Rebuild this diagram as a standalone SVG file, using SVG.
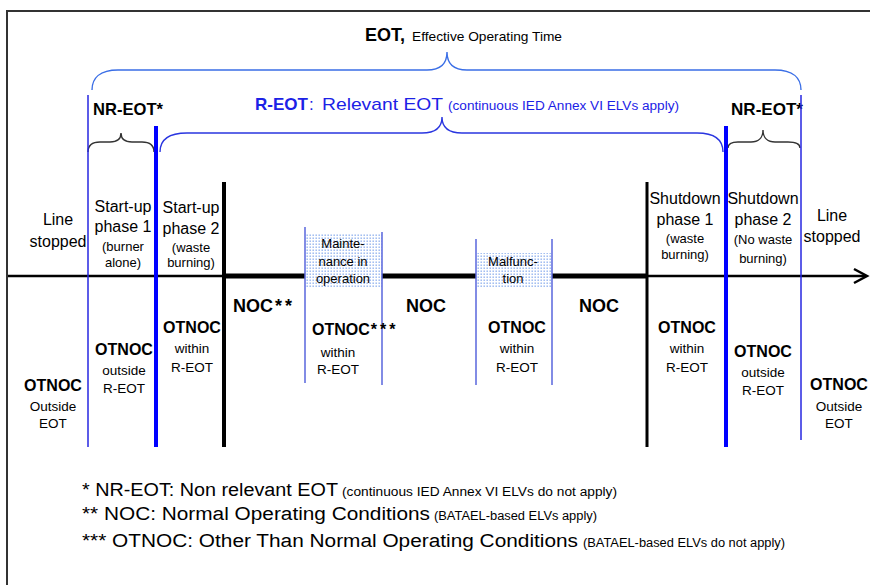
<svg xmlns="http://www.w3.org/2000/svg" width="870" height="585" viewBox="0 0 870 585">
<style>
text{font-family:"Liberation Sans",Arial,sans-serif;fill:#000}
.c{text-anchor:middle}
.t16{font-size:16px}
.s13{font-size:13px}
.b{font-weight:bold}
.ot{font-size:16px;font-weight:bold;text-anchor:middle}
.sub{font-size:13.5px;text-anchor:middle}
.noc{font-size:18px;font-weight:bold}
.blue{fill:#1c22e6}
.thinb{stroke:#2626e0;stroke-width:1.5;fill:none}
.thickb{stroke:#0000ff;stroke-width:4;fill:none}
.boxl{stroke:#5866dc;stroke-width:1.5;fill:none}
.brace{fill:none;stroke-width:1.4}
</style>
<defs>
<pattern id="dots" width="3" height="3" patternUnits="userSpaceOnUse">
<rect width="3" height="3" fill="#ffffff"/>
<rect x="0.5" y="0.5" width="1.4" height="1.4" fill="#8eb0ee"/>
</pattern>
</defs>
<rect width="870" height="585" fill="#ffffff"/>
<rect x="7" y="11" width="900" height="620" fill="none" stroke="#333333" stroke-width="2"/>

<g id="titles">
<text x="365" y="41" class="b" font-size="18">EOT,</text>
<text x="412" y="41" font-size="13" textLength="150" lengthAdjust="spacingAndGlyphs">Effective Operating Time</text>
<text x="93" y="115" class="b" font-size="16.5" textLength="70" lengthAdjust="spacingAndGlyphs">NR-EOT*</text>
<text x="731" y="115" class="b" font-size="16.5" textLength="72" lengthAdjust="spacingAndGlyphs">NR-EOT*</text>
<text x="255" y="110" class="b blue" font-size="17">R-EOT</text>
<text x="309" y="110" class="blue" font-size="17">:</text>
<text x="322" y="110" class="blue" font-size="17" textLength="121" lengthAdjust="spacingAndGlyphs">Relevant EOT</text>
<text x="448" y="110" class="blue" font-size="12" textLength="231" lengthAdjust="spacingAndGlyphs">(continuous IED Annex VI ELVs apply)</text>
</g>

<g id="connectors">
<path class="brace" stroke="#3a6ee6" d="M92,90 C92,78 100,70 118,70 L427,70 C441,70 447,63 447,52 C447,63 453,70 467,70 L775,70 C793,70 801,78 801,90"/>
<path class="brace" stroke="#2a36e0" d="M160,152 C160,140 168,133 187,133 L422,133 C436,133 442,127 442,117 C442,127 448,133 462,133 L697,133 C716,133 723,140 723,152"/>
<path class="brace" stroke="#333333" stroke-width="1.2" d="M88,152 C88,146 92,142 100,142 L110,142 C117,142 121,139 121,133 C121,139 125,142 132,142 L142,142 C150,142 154,146 154,152"/>
<path class="brace" stroke="#333333" stroke-width="1.2" d="M728,148 C728,144 731,142 738,142 L751,142 C758,142 763,138 763,130 C763,138 768,142 775,142 L788,142 C796,142 800,144 800,148"/>
<line x1="8" y1="276" x2="225" y2="276" stroke="#000" stroke-width="2.5"/>
<line x1="225" y1="276" x2="647" y2="276" stroke="#000" stroke-width="5"/>
<line x1="647" y1="276" x2="866" y2="276" stroke="#000" stroke-width="2.5"/>
<polyline points="854,269 867,276 854,283" fill="none" stroke="#000" stroke-width="2.5"/>
<line class="thinb" x1="88" y1="95" x2="88" y2="447"/>
<line class="thickb" x1="156" y1="126" x2="156" y2="447"/>
<line x1="224" y1="182" x2="224" y2="447" stroke="#000" stroke-width="4"/>
<line x1="647" y1="182" x2="647" y2="447" stroke="#000" stroke-width="3"/>
<line class="thickb" x1="726" y1="126" x2="726" y2="447"/>
<line class="thinb" x1="801" y1="95" x2="801" y2="440"/>
</g>

<g id="maintenance">
<rect x="305" y="233" width="77" height="55" fill="url(#dots)"/>
<line class="boxl" x1="305" y1="227" x2="305" y2="383"/>
<line class="boxl" x1="382" y1="232" x2="382" y2="385"/>
<text x="343" y="248" class="c s13">Mainte-</text>
<text x="343" y="266" class="c s13">nance in</text>
<text x="343" y="283" class="c s13">operation</text>
</g>

<g id="malfunction">
<rect x="476" y="253" width="76" height="35" fill="url(#dots)"/>
<line class="boxl" x1="476" y1="239" x2="476" y2="385"/>
<line class="boxl" x1="552" y1="239" x2="552" y2="385"/>
<text x="513" y="266" class="c s13">Malfunc-</text>
<text x="513" y="283" class="c s13">tion</text>
</g>

<g id="line-stopped-left">
<text x="58" y="225" class="c t16">Line</text>
<text x="58" y="247" class="c t16">stopped</text>
<text x="53" y="391" class="ot">OTNOC</text>
<text x="53" y="411" class="sub">Outside</text>
<text x="53" y="428" class="sub">EOT</text>
</g>

<g id="startup-1">
<text x="123" y="212" class="c t16">Start-up</text>
<text x="123" y="232" class="c t16">phase 1</text>
<text x="123" y="251" class="c s13">(burner</text>
<text x="123" y="267" class="c s13">alone)</text>
<text x="124" y="355" class="ot">OTNOC</text>
<text x="124" y="375" class="sub">outside</text>
<text x="124" y="393" class="sub">R-EOT</text>
</g>

<g id="startup-2">
<text x="191" y="213" class="c t16">Start-up</text>
<text x="191" y="234" class="c t16">phase 2</text>
<text x="191" y="252" class="c s13">(waste</text>
<text x="191" y="267" class="c s13">burning)</text>
<text x="192" y="333" class="ot">OTNOC</text>
<text x="192" y="353" class="sub">within</text>
<text x="192" y="372" class="sub">R-EOT</text>
</g>

<g id="noc-1">
<text x="233" y="312" class="noc">NOC<tspan dx="2" letter-spacing="3">**</tspan></text>
</g>

<g id="otnoc-maintenance">
<text x="312" y="335" class="b" font-size="16">OTNOC<tspan dx="1" letter-spacing="3">***</tspan></text>
<text x="338" y="357" class="sub">within</text>
<text x="338" y="374" class="sub">R-EOT</text>
</g>

<g id="noc-2">
<text x="426" y="312" class="noc c">NOC</text>
</g>

<g id="otnoc-malfunction">
<text x="517" y="333" class="ot">OTNOC</text>
<text x="517" y="353" class="sub">within</text>
<text x="517" y="372" class="sub">R-EOT</text>
</g>

<g id="noc-3">
<text x="599" y="312" class="noc c">NOC</text>
</g>

<g id="shutdown-1">
<text x="685" y="204" class="c t16">Shutdown</text>
<text x="685" y="225" class="c t16">phase 1</text>
<text x="685" y="243" class="c s13">(waste</text>
<text x="685" y="259" class="c s13">burning)</text>
<text x="687" y="333" class="ot">OTNOC</text>
<text x="687" y="353" class="sub">within</text>
<text x="687" y="372" class="sub">R-EOT</text>
</g>

<g id="shutdown-2">
<text x="763" y="204" class="c t16">Shutdown</text>
<text x="763" y="225" class="c t16">phase 2</text>
<text x="763" y="244" class="c s13">(No waste</text>
<text x="763" y="263" class="c s13">burning)</text>
<text x="763" y="357" class="ot">OTNOC</text>
<text x="763" y="377" class="sub">outside</text>
<text x="763" y="395" class="sub">R-EOT</text>
</g>

<g id="line-stopped-right">
<text x="832" y="221" class="c t16">Line</text>
<text x="832" y="242" class="c t16">stopped</text>
<text x="839" y="390" class="ot">OTNOC</text>
<text x="839" y="411" class="sub">Outside</text>
<text x="839" y="428" class="sub">EOT</text>
</g>

<g id="legend">
<text x="82" y="496" font-size="18" textLength="256" lengthAdjust="spacingAndGlyphs">* NR-EOT: Non relevant EOT</text>
<text x="342" y="496" font-size="12" textLength="275" lengthAdjust="spacingAndGlyphs">(continuous IED Annex VI ELVs do not apply)</text>
<text x="82" y="520" font-size="18" textLength="348" lengthAdjust="spacingAndGlyphs">** NOC: Normal Operating Conditions</text>
<text x="434" y="520" font-size="12" textLength="163" lengthAdjust="spacingAndGlyphs">(BATAEL-based ELVs apply)</text>
<text x="82" y="547" font-size="18" textLength="496" lengthAdjust="spacingAndGlyphs">*** OTNOC: Other Than Normal Operating Conditions</text>
<text x="583" y="547" font-size="12" textLength="202" lengthAdjust="spacingAndGlyphs">(BATAEL-based ELVs do not apply)</text>
</g>
</svg>
